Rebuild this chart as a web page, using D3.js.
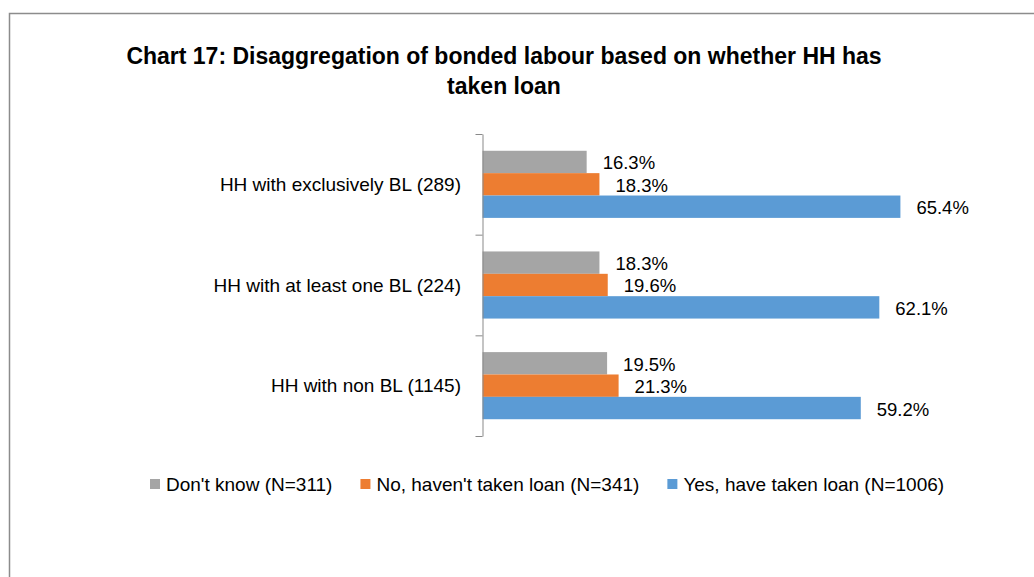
<!DOCTYPE html>
<html>
<head>
<meta charset="utf-8">
<script src="https://cdn.jsdelivr.net/npm/d3@7"></script>
<style>
  html, body { margin: 0; padding: 0; background: #fff; }
  svg { display: block; }
  text { font-family: "Liberation Sans", Arial, sans-serif; fill: #000; }
</style>
</head>
<body>
<svg id="chart" width="1034" height="577"></svg>
<script>
// Households grouped by bonded-labour status, split by loan status (%)
const categories = ["HH with exclusively BL (289)", "HH with at least one BL (224)", "HH with non BL (1145)"];
const seriesNames = ["Don't know (N=311)", "No, haven't taken loan (N=341)", "Yes, have taken loan (N=1006)"];
const dontKnow = [16.3, 18.3, 19.5];
const notTaken = [18.3, 19.6, 21.3];
const taken = [65.4, 62.1, 59.2];
const seriesColors = ["#A5A5A5", "#ED7D31", "#5B9BD5"];
const titleLines = ["Chart 17: Disaggregation of bonded labour based on whether HH has", "taken loan"];

const seriesValues = [dontKnow, notTaken, taken];
const svg = d3.select("#chart");

// outer frame (top and left edges visible)
svg.append("path")
  .attr("d", "M9.5,577 L9.5,13.5 L1034,13.5")
  .attr("fill", "none")
  .attr("stroke", "#8c8c8c")
  .attr("stroke-width", 1.5);

// title
const title = svg.append("text")
  .attr("text-anchor", "middle")
  .style("font-weight", "bold")
  .style("font-size", "23px");
titleLines.forEach((line, i) => {
  title.append("tspan").attr("x", 504).attr("y", 64 + i * 30).text(line);
});

// scales
const y = d3.scaleBand()
  .domain(categories)
  .range([134, 436])
  .paddingInner(1 / 3)
  .paddingOuter(1 / 6);

const ySeries = d3.scaleBand()
  .domain(seriesNames)
  .range([0, y.bandwidth()]);

const x = d3.scaleLinear().domain([0, 70]).range([482.5, 929.8]);

// bars
const groups = svg.append("g").selectAll("g")
  .data(categories)
  .join("g")
  .attr("transform", d => `translate(0,${y(d)})`);

groups.each(function (cat, ci) {
  const g = d3.select(this);
  const rows = seriesNames.map((s, si) => ({ s, si, v: seriesValues[si][ci] }));
  g.selectAll("rect")
    .data(rows)
    .join("rect")
    .attr("x", x(0))
    .attr("y", d => ySeries(d.s))
    .attr("width", d => x(d.v) - x(0))
    .attr("height", ySeries.bandwidth())
    .attr("fill", d => seriesColors[d.si]);
  g.selectAll("text.val")
    .data(rows)
    .join("text")
    .attr("class", "val")
    .attr("x", d => x(d.v) + 16)
    .attr("y", d => ySeries(d.s) + ySeries.bandwidth() / 2 + 1)
    .attr("dy", "0.35em")
    .style("font-size", "18.5px")
    .text(d => d.v.toFixed(1) + "%");
});

// category axis with ticks at band boundaries
const boundary = d3.scaleLinear().domain([0, categories.length]).range([134, 436]);
const axis = svg.append("g")
  .attr("transform", `translate(${x(0)},0)`)
  .call(d3.axisLeft(boundary)
    .tickValues(d3.range(categories.length + 1))
    .tickFormat("")
    .tickSize(7)
    .tickSizeOuter(0));
axis.selectAll("path, line").attr("stroke", "#898989").attr("stroke-width", 1);

svg.append("g").selectAll("text")
  .data(categories)
  .join("text")
  .attr("x", 461)
  .attr("y", d => y(d) + y.bandwidth() / 2)
  .attr("dy", "0.35em")
  .attr("text-anchor", "end")
  .style("font-size", "19px")
  .text(d => d);

// legend
const legend = svg.append("g");
let lx = 150;
seriesNames.forEach((name, i) => {
  legend.append("rect")
    .attr("x", lx).attr("y", 479)
    .attr("width", 10).attr("height", 10)
    .attr("fill", seriesColors[i]);
  const t = legend.append("text")
    .attr("x", lx + 16).attr("y", 484)
    .attr("dy", "0.35em")
    .style("font-size", "19px")
    .text(name);
  lx += 16 + t.node().getComputedTextLength() + 28;
});
</script>
</body>
</html>
